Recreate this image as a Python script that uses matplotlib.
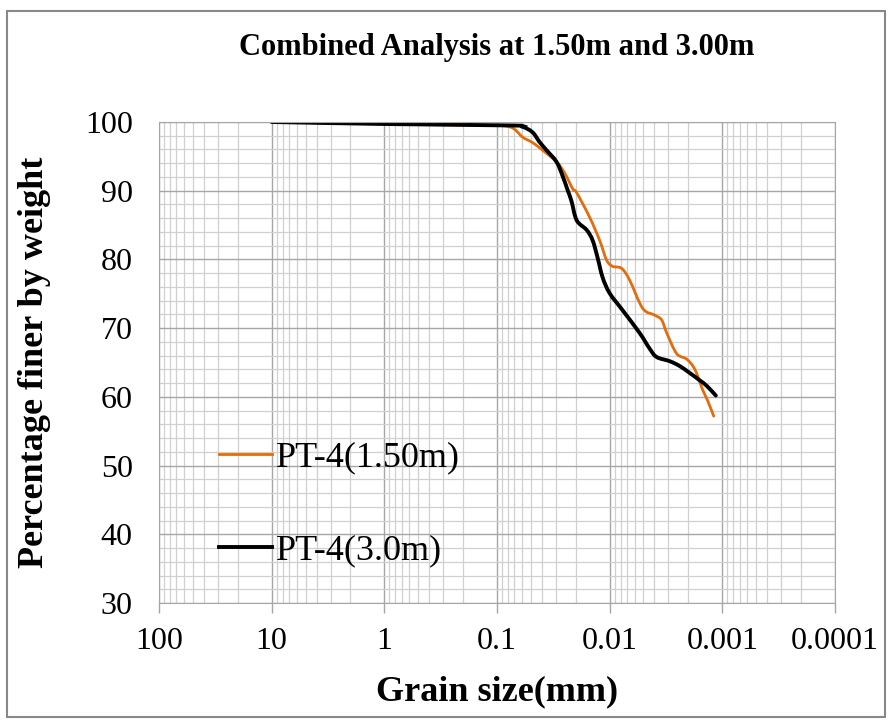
import matplotlib
matplotlib.use("Agg")
import numpy as np
import matplotlib.pyplot as plt
import matplotlib.patches as patches
from matplotlib.lines import Line2D
from matplotlib.path import Path
from matplotlib.ticker import LogLocator, FixedLocator, NullFormatter, MultipleLocator

# grain size (mm) and percent finer
size_150 = [10, 0.9, 0.143, 0.0774, 0.0593, 0.0483, 0.0394, 0.0296, 0.0251,
            0.0213, 0.0196, 0.0151, 0.01227, 0.01063, 0.0094, 0.00782, 0.00664,
            0.00509, 0.00398, 0.00345, 0.00311, 0.00254, 0.00207, 0.00175,
            0.00149, 0.00135, 0.00119]
finer_150 = [100, 99.7, 99.5, 99.3, 97.8, 97.0, 95.9, 94.2, 92.6,
             90.3, 89.7, 86.2, 82.8, 79.9, 79.0, 78.7, 77.0,
             72.9, 71.9, 71.2, 69.3, 66.3, 65.5, 64.0,
             61.0, 59.5, 57.2]

size_300 = [10, 0.9, 0.0774, 0.0593, 0.0483, 0.0419, 0.0363, 0.0296, 0.0262,
            0.0236, 0.0218, 0.0196, 0.016, 0.01416, 0.0128, 0.01154, 0.01,
            0.00766, 0.00541, 0.0044, 0.00382, 0.00293, 0.00239, 0.00195,
            0.00158, 0.00137, 0.00114]
finer_300 = [100, 99.7, 99.5, 99.3, 98.5, 97.1, 95.9, 94.2, 92.2,
             90.1, 88.5, 85.7, 84.3, 82.8, 80.3, 77.4, 75.1,
             72.6, 69.3, 67.0, 65.8, 65.2, 64.5, 63.5,
             62.4, 61.6, 60.2]

x_ticks = [100, 10, 1, 0.1, 0.01, 0.001, 0.0001]
x_labels = ["100", "10", "1", "0.1", "0.01", "0.001", "0.0001"]

ORANGE = "#E46C0A"


def smooth_path(xs, ys):
    # Excel-like smoothed line: Catmull-Rom bezier through the points (log-x space)
    p = np.column_stack([np.log10(xs), ys])
    verts = [p[0]]
    codes = [Path.MOVETO]
    n = len(p)
    for i in range(n - 1):
        p0 = p[max(i - 1, 0)]
        p1 = p[i]
        p2 = p[i + 1]
        p3 = p[min(i + 2, n - 1)]
        c1 = p1 + (p2 - p0) / 6
        c2 = p2 - (p3 - p1) / 6
        verts += [c1, c2, p2]
        codes += [Path.CURVE4] * 3
    verts = np.array(verts)
    verts[:, 0] = 10 ** verts[:, 0]
    return Path(verts, codes)


plt.rcParams["font.family"] = ["Liberation Serif", "DejaVu Serif"]

fig = plt.figure(figsize=(8.91, 7.24), dpi=100)
ax = fig.add_axes([0.1785, 0.167, 0.7585, 0.6645])

ax.set_xscale("log")
ax.set_xlim(100, 0.0001)
ax.set_ylim(30, 100)

ax.add_patch(patches.PathPatch(smooth_path(size_150, finer_150), fill=False,
                               edgecolor=ORANGE, lw=2.0, capstyle="round"))
ax.add_patch(patches.PathPatch(smooth_path(size_300, finer_300), fill=False,
                               edgecolor="black", lw=2.8, capstyle="round"))

ax.xaxis.set_major_locator(FixedLocator(x_ticks))
ax.set_xticklabels(x_labels)
ax.xaxis.set_minor_locator(LogLocator(base=10, subs=range(2, 10), numticks=20))
ax.xaxis.set_minor_formatter(NullFormatter())
ax.yaxis.set_major_locator(MultipleLocator(10))
ax.yaxis.set_minor_locator(MultipleLocator(2))

ax.grid(which="major", color="#a6a6a6", lw=1.0)
ax.grid(which="minor", color="#d0d0d0", lw=0.9)
ax.set_axisbelow(True)

ax.tick_params(axis="x", which="major", direction="out", length=7, width=1,
               color="#a6a6a6", labelsize=23, pad=10)
ax.tick_params(axis="x", which="minor", length=0)
ax.tick_params(axis="y", which="both", length=0, labelsize=23, pad=19)
for s in ax.spines.values():
    s.set_color("#a6a6a6")

ax.set_xlabel("Grain size(mm)", fontsize=26, fontweight="bold", labelpad=14)
ax.set_ylabel("Percentage finer by weight", fontsize=26, fontweight="bold",
              labelpad=24)
fig.text(0.558, 0.935, "Combined Analysis at 1.50m and 3.00m", fontsize=22,
         fontweight="bold", ha="center", va="center")

handles = [Line2D([], [], color=ORANGE, lw=2.0),
           Line2D([], [], color="black", lw=2.8)]
ax.legend(handles, ["PT-4(1.50m)", "PT-4(3.0m)"], loc="center left",
          bbox_to_anchor=(0.089, 0.205), frameon=False, fontsize=26,
          handlelength=1.45, handletextpad=0.12, labelspacing=1.65,
          borderpad=0, borderaxespad=0)

fig.patches.append(patches.Rectangle((0.008, 0.01), 0.985, 0.975,
                                     transform=fig.transFigure, fill=False,
                                     edgecolor="#888888", lw=1.5))

fig.savefig("out.png", dpi=100)
